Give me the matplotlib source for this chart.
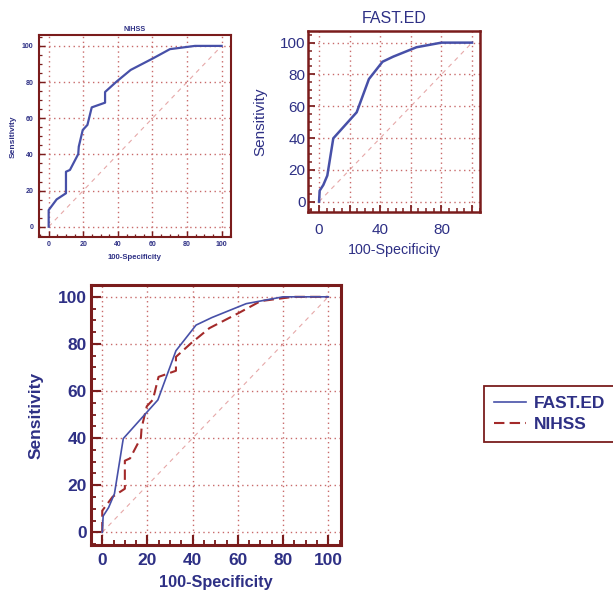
import matplotlib
matplotlib.use("Agg")
import matplotlib.pyplot as plt
from matplotlib.ticker import MultipleLocator, FixedFormatter, FixedLocator

# ROC points (100-specificity, sensitivity)
nihss_x = [0, 0, 4.6, 10, 10, 12.3, 17.1, 17.4, 19.7, 22.4, 24.9, 32.6, 32.6, 39.3, 47.4, 60.5, 70.1, 84.6, 100]
nihss_y = [0, 9.2, 15.1, 18.5, 30.4, 31.4, 40.2, 44.3, 53.5, 56.3, 66.0, 68.6, 74.5, 80.3, 86.7, 93.2, 98.2, 100, 100]

fast_x = [0, 0.4, 2.8, 5.4, 9.3, 24.6, 32.6, 41.5, 48.5, 63.7, 80, 100]
fast_y = [0, 6.9, 10.5, 16.4, 39.8, 56.2, 77.1, 88.0, 91.2, 97.1, 100, 100]

navy = "#2E3085"
blue = "#4750A8"
maroon = "#7A1C1C"
dashred = "#A32A2A"
gridred = "#C86A6A"
diagred = "#E6A8A8"

plt.rcParams['font.family'] = ['Liberation Sans', 'DejaVu Sans']

fig = plt.figure(figsize=(6.13, 5.93), dpi=100)


def style_axes(ax, xlim, ylim, fs, bold, frame_w, tick_len):
    weight = 'bold' if bold else 'normal'
    ax.set_xlim(*xlim)
    ax.set_ylim(*ylim)
    for sp in ax.spines.values():
        sp.set_color(maroon)
        sp.set_linewidth(frame_w)
    ax.xaxis.set_major_locator(MultipleLocator(20))
    ax.yaxis.set_major_locator(MultipleLocator(20))
    ax.xaxis.set_minor_locator(MultipleLocator(5))
    ax.yaxis.set_minor_locator(MultipleLocator(5))
    ax.tick_params(which='major', direction='in', length=tick_len, width=frame_w * 0.7,
                   color=maroon, labelcolor=navy, labelsize=fs)
    ax.tick_params(which='minor', direction='in', length=tick_len * 0.55, width=frame_w * 0.6,
                   color=maroon)
    for lab in ax.get_xticklabels() + ax.get_yticklabels():
        lab.set_fontweight(weight)
    ax.grid(True, which='major', linestyle=(0, (1, 2.5)), color=gridred, linewidth=1.0)
    ax.plot([0, 100], [0, 100], linestyle=(0, (4, 4)), color=diagred, linewidth=0.8, zorder=1)


def place_labels(ax, fs, bold, xpos, ypos):
    weight = 'bold' if bold else 'normal'
    ax.set_xlabel("100-Specificity", fontsize=fs[0], fontweight=weight, color=navy)
    ax.set_ylabel("Sensitivity", fontsize=fs[1], fontweight=weight, color=navy)
    ax.xaxis.label.set_va('center')
    ax.yaxis.label.set_va('center')
    ax.xaxis.set_label_coords(*xpos)
    ax.yaxis.set_label_coords(*ypos)


# NIHSS panel
ax1 = fig.add_axes([0.0636, 0.6003, 0.3132, 0.3406])
style_axes(ax1, (-5.6, 105.4), (-5.7, 106), 5, True, 1.5, 4.5)
ax1.plot(nihss_x, nihss_y, color=blue, linewidth=1.6, zorder=3)
ax1.tick_params(axis='x', pad=3)
ax1.tick_params(axis='y', pad=4)
place_labels(ax1, (5.6, 6), True, (0.5, -0.099), (-0.135, 0.495))
ax1.text(0.5, 1.025, "NIHSS", transform=ax1.transAxes, ha='center', va='center',
         fontsize=5.2, fontweight='bold', color=navy)

# FAST.ED panel
ax2 = fig.add_axes([0.503, 0.642, 0.280, 0.3062])
style_axes(ax2, (-7, 105.2), (-6.7, 107.5), 11, False, 1.8, 5)
ax2.xaxis.set_major_locator(FixedLocator([-20, 0, 20, 40, 60, 80, 100, 120]))
ax2.xaxis.set_major_formatter(FixedFormatter(['', '0', '', '40', '', '80', '', '']))
ax2.plot(fast_x, fast_y, color=blue, linewidth=1.8, zorder=3)
ax2.tick_params(axis='x', pad=8)
ax2.tick_params(axis='y', pad=2)
place_labels(ax2, (10.3, 11), False, (0.5, -0.208), (-0.281, 0.5))
ax2.text(0.5, 1.07, "FAST.ED", transform=ax2.transAxes, ha='center', va='center',
         fontsize=11.5, color=navy)

# combined panel
ax3 = fig.add_axes([0.148, 0.0809, 0.4078, 0.4384])
style_axes(ax3, (-5.1, 105.5), (-5.4, 105), 12.5, True, 2.2, 7)
h1, = ax3.plot(fast_x, fast_y, color=blue, linewidth=1.2, zorder=4, label="FAST.ED")
h2, = ax3.plot(nihss_x, nihss_y, color=dashred, linewidth=1.5, linestyle=(0, (5, 2.5)),
               zorder=3, label="NIHSS")
ax3.tick_params(axis='x', pad=6)
ax3.tick_params(axis='y', pad=3)
place_labels(ax3, (11.7, 12.5), True, (0.5, -0.143), (-0.219, 0.5))

leg = fig.legend(handles=[h1, h2], loc='center left',
                 bbox_to_anchor=(484 / 613, 1 - 446 / 593, 0.26, 64 / 593),
                 mode='expand', fancybox=False, framealpha=1, fontsize=12.5,
                 handlelength=1.8, handletextpad=0.5, labelspacing=0.3,
                 borderpad=0.6, borderaxespad=0)
leg.get_frame().set_edgecolor(maroon)
leg.get_frame().set_linewidth(1.3)
for t in leg.get_texts():
    t.set_color(navy)
    t.set_fontweight('bold')

fig.savefig("out.png", dpi=100)
